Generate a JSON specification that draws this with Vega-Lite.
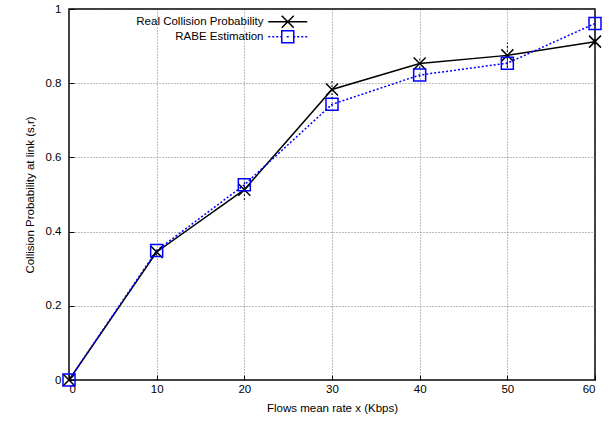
{
  "$schema": "https://vega.github.io/schema/vega-lite/v6.json",
  "autosize": {"type": "none"},
  "width": 526,
  "height": 371,
  "padding": {"left": 69, "top": 9, "right": 16, "bottom": 42},
  "background": "white",
  "config": {
    "view": {"stroke": "black", "strokeWidth": 1.5},
    "font": "Liberation Sans",
    "axis": {
      "labelFont": "Liberation Sans", "labelFontSize": 11.5, "labelColor": "black",
      "titleFont": "Liberation Sans", "titleFontSize": 11.5, "titleFontWeight": "normal", "titleColor": "black",
      "grid": true, "gridColor": "#555555", "gridDash": [1, 2], "gridWidth": 0.8,
      "domain": false, "tickColor": "black", "tickSize": -5, "tickWidth": 1
    }
  },
  "data": {
    "values": [
      {"x": 0, "y": 0, "series": "Real Collision Probability", "lo": 0, "hi": 0},
      {"x": 10, "y": 0.345, "series": "Real Collision Probability", "lo": 0.335, "hi": 0.355},
      {"x": 20, "y": 0.513, "series": "Real Collision Probability", "lo": 0.485, "hi": 0.54},
      {"x": 30, "y": 0.783, "series": "Real Collision Probability", "lo": 0.757, "hi": 0.809},
      {"x": 40, "y": 0.853, "series": "Real Collision Probability", "lo": 0.84, "hi": 0.866},
      {"x": 50, "y": 0.875, "series": "Real Collision Probability", "lo": 0.841, "hi": 0.909},
      {"x": 60, "y": 0.912, "series": "Real Collision Probability", "lo": 0.905, "hi": 0.919},
      {"x": 0, "y": 0, "series": "RABE Estimation", "lo": 0, "hi": 0},
      {"x": 10, "y": 0.349, "series": "RABE Estimation", "lo": 0.345, "hi": 0.353},
      {"x": 20, "y": 0.526, "series": "RABE Estimation", "lo": 0.52, "hi": 0.532},
      {"x": 30, "y": 0.743, "series": "RABE Estimation", "lo": 0.737, "hi": 0.749},
      {"x": 40, "y": 0.822, "series": "RABE Estimation", "lo": 0.816, "hi": 0.828},
      {"x": 50, "y": 0.854, "series": "RABE Estimation", "lo": 0.846, "hi": 0.862},
      {"x": 60, "y": 0.961, "series": "RABE Estimation", "lo": 0.955, "hi": 0.967}
    ]
  },
  "encoding": {
    "x": {
      "field": "x", "type": "quantitative",
      "scale": {"domain": [0, 60], "nice": false, "zero": false},
      "axis": {"values": [0, 10, 20, 30, 40, 50, 60], "title": "Flows mean rate x (Kbps)", "labelPadding": 8, "titlePadding": 8}
    },
    "y": {
      "field": "y", "type": "quantitative",
      "scale": {"domain": [0, 1], "nice": false},
      "axis": {"values": [0, 0.2, 0.4, 0.6, 0.8, 1], "format": "~g", "title": "Collision Probability at link (s,r)", "labelPadding": 13, "titlePadding": 10}
    },
    "color": {
      "field": "series", "type": "nominal",
      "scale": {"domain": ["Real Collision Probability", "RABE Estimation"], "range": ["black", "#0000ff"]},
      "legend": {
        "title": null, "orient": "none", "legendX": 213, "legendY": 7, "padding": 0,
        "symbolSize": 36, "symbolStrokeWidth": 1.5, "symbolFillColor": "transparent",
        "labelAlign": "right", "labelOffset": -30, "labelFontSize": 11.5, "labelFont": "Liberation Sans", "labelColor": "black",
        "rowPadding": -6, "labelLimit": 300,
        "encode": {
          "symbols": {
            "update": {
              "shape": {"signal": "datum.value === 'Real Collision Probability' ? 'M-6.5,0H6.5M-2,-2L2,2M-2,2L2,-2' : 'M-6.5,0H-5.833M-5.167,0H-4.5M-3.833,0H-3.167M-2.5,0H-1.833M-0.333,0H0.333M1.833,0H2.5M3.167,0H3.833M4.5,0H5.167M5.833,0H6.5M-2,-2H2V2H-2Z'"},
              "fill": {"value": "transparent"},
              "size": {"value": 36}
            }
          }
        }
      }
    }
  },
  "layer": [
    {
      "mark": {"type": "rule", "strokeDash": [2, 2], "strokeWidth": 1},
      "encoding": {
        "y": {"field": "lo", "type": "quantitative"},
        "y2": {"field": "hi"}
      }
    },
    {
      "transform": [{"filter": "datum.series === 'Real Collision Probability'"}],
      "mark": {"type": "line", "strokeWidth": 1.5}
    },
    {
      "transform": [{"filter": "datum.series === 'RABE Estimation'"}],
      "mark": {"type": "line", "strokeWidth": 1.5, "strokeDash": [2, 2]}
    },
    {
      "transform": [{"filter": "datum.series === 'Real Collision Probability'"}],
      "mark": {"type": "point", "filled": false, "size": 144, "strokeWidth": 1.5, "opacity": 1, "shape": "M-1,-1L1,1M-1,1L1,-1"}
    },
    {
      "transform": [{"filter": "datum.series === 'RABE Estimation'"}],
      "mark": {"type": "point", "filled": false, "size": 144, "strokeWidth": 1.5, "opacity": 1, "shape": "square"}
    }
  ]
}
